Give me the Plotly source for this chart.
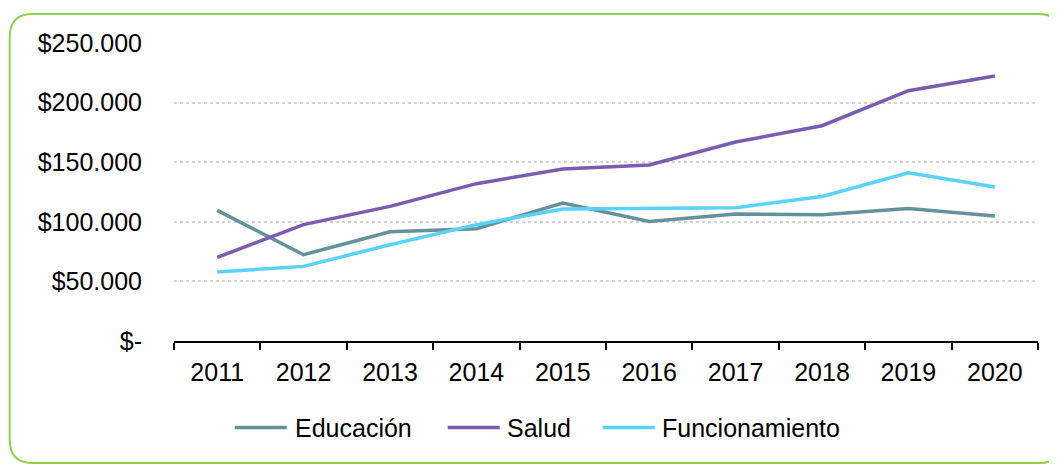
import plotly.graph_objects as go

years = ["2011", "2012", "2013", "2014", "2015", "2016", "2017", "2018", "2019", "2020"]
educacion = [109600, 72400, 91700, 94200, 115800, 100300, 106500, 106000, 111200, 104900]
salud = [70100, 97600, 112900, 132000, 144300, 147600, 166900, 180600, 210000, 222300]
funcionamiento = [57900, 62600, 80800, 97600, 110700, 111200, 111800, 121300, 141200, 129200]

series_names = ["Educación", "Salud", "Funcionamiento"]
series_values = [educacion, salud, funcionamiento]
series_colors = ["#64919B", "#7A5CB0", "#5AD2FA"]

y_tickvals = [0, 50000, 100000, 150000, 200000, 250000]
y_ticktext = ["$-", "$50.000", "$100.000", "$150.000", "$200.000", "$250.000"]

# page body has an 8px margin; work in screen pixels and convert
OFF = 8
W, H = 1057 - OFF, 464 - OFF
L, R, T, B = 174.3 - OFF, 1038.3 - OFF, 43 - OFF, 341.3 - OFF
pw, ph = R - L, B - T

def px(x):
    return (x - OFF - L) / pw

def py(y):
    return (B - (y - OFF)) / ph

FONT = "Liberation Sans"
FS = 25

fig = go.Figure()
for name, vals, col in zip(series_names, series_values, series_colors):
    fig.add_trace(go.Scatter(x=years, y=vals, name=name, mode="lines",
                             line=dict(color=col, width=3.5), showlegend=False))

# rounded green frame (screen pixel coordinates)
x0, x1, y0, y1, r = 10, 1062, 14, 463.5, 23
path = (f"M {px(x0)},{py(y0 + r)} Q {px(x0)},{py(y0)} {px(x0 + r)},{py(y0)} "
        f"L {px(x1 - r)},{py(y0)} Q {px(x1)},{py(y0)} {px(x1)},{py(y0 + r)} "
        f"L {px(x1)},{py(y1 - r)} Q {px(x1)},{py(y1)} {px(x1 - r)},{py(y1)} "
        f"L {px(x0 + r)},{py(y1)} Q {px(x0)},{py(y1)} {px(x0)},{py(y1 - r)} Z")
shapes = [dict(type="path", xref="paper", yref="paper", path=path,
               line=dict(color="#92D050", width=2), layer="below")]

# manual legend
leg_y = 428
leg_pos = [(235, 287, 293), (448, 500, 505), (603, 655, 660)]
annotations = []
for (lx0, lx1, tx), name, col in zip(leg_pos, series_names, series_colors):
    shapes.append(dict(type="line", xref="paper", yref="paper",
                       x0=px(lx0), x1=px(lx1), y0=py(leg_y), y1=py(leg_y),
                       line=dict(color=col, width=3.5)))
    annotations.append(dict(xref="paper", yref="paper", x=px(tx), y=py(leg_y),
                            xanchor="left", yanchor="middle", text=name, showarrow=False,
                            font=dict(family=FONT, size=FS, color="#000000")))

fig.update_layout(
    width=W, height=H,
    margin=dict(l=L, r=W - R, t=T, b=H - B, autoexpand=False),
    paper_bgcolor="white", plot_bgcolor="white",
    font=dict(family=FONT, size=FS, color="#000000"),
    shapes=shapes, annotations=annotations,
    xaxis=dict(type="category", tickson="boundaries", ticks="outside", ticklen=7,
               tickwidth=1.5, tickcolor="#000000", showline=True, linecolor="#000000",
               linewidth=1.5, showgrid=False, ticklabelstandoff=8,
               tickfont=dict(family=FONT, size=FS), range=[-0.5, 9.5]),
    yaxis=dict(range=[0, 250000], tickvals=y_tickvals, ticktext=y_ticktext,
               showgrid=True, gridcolor="#D4D4D4", griddash="dot", gridwidth=1.5,
               zeroline=False, showline=False, ticks="", ticklabelstandoff=31,
               tickfont=dict(family=FONT, size=FS)),
)

fig.write_html("out.html")
